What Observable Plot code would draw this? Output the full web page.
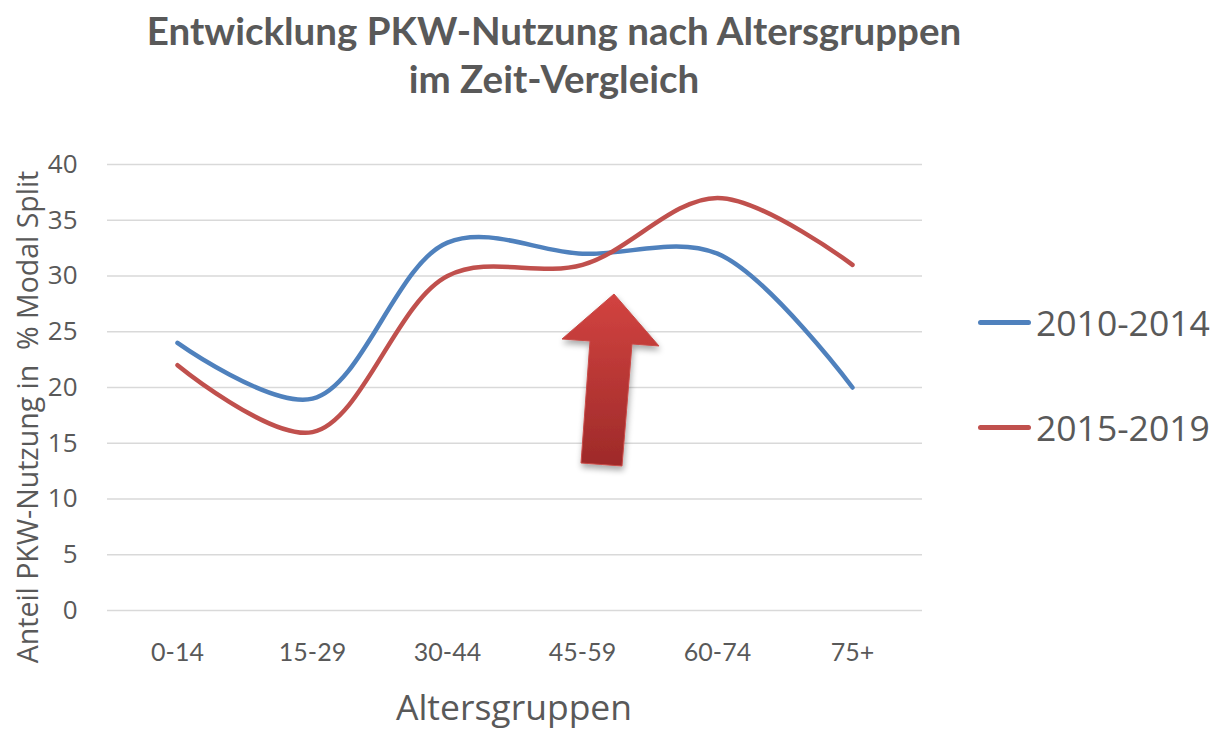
<!DOCTYPE html>
<html>
<head>
<meta charset="utf-8">
<script src="https://cdn.jsdelivr.net/npm/d3@7"></script>
<script src="https://cdn.jsdelivr.net/npm/@observablehq/plot@0.6"></script>
<style>
  html, body { margin: 0; padding: 0; background: #fff; }
  #wrap { position: relative; width: 1222px; height: 739px; overflow: hidden; font-family: "Open Sans", sans-serif; color: #595959; }
  #wrap > * { position: absolute; }
  #title { left: 0; width: 1108px; top: 6px; text-align: center; font-family: Lato, sans-serif; font-weight: bold; font-size: 38.5px; line-height: 48px; color: #595959; }
  #ytitle { left: 27px; top: 417px; transform: translate(-50%, -50%) rotate(-90deg); white-space: nowrap; font-size: 28.5px; color: #595959; }
  #xtitle { left: 514px; top: 706px; transform: translate(-50%, -50%); white-space: nowrap; font-size: 35.5px; color: #595959; }
  .leg { left: 978px; display: flex; align-items: center; font-size: 35.5px; color: #595959; transform: translateY(-50%); }
  .leg span.sw { display: inline-block; width: 53px; height: 5px; border-radius: 3px; margin-right: 5px; }
</style>
</head>
<body>
<div id="wrap">
  <div id="chart" style="left:0;top:0"></div>
  <div id="title">Entwicklung PKW-Nutzung nach Altersgruppen<br>im Zeit-Vergleich</div>
  <div id="ytitle">Anteil PKW-Nutzung in&nbsp; % Modal Split</div>
  <div id="xtitle">Altersgruppen</div>
  <svg id="arrow" width="1222" height="739" style="left:0;top:0;pointer-events:none">
    <defs>
      <linearGradient id="ag" x1="0" y1="0" x2="0" y2="1">
        <stop offset="0" stop-color="#d24340"/>
        <stop offset="1" stop-color="#9e2a29"/>
      </linearGradient>
      <filter id="sh" x="-30%" y="-30%" width="160%" height="160%">
        <feGaussianBlur in="SourceAlpha" stdDeviation="3"/>
        <feOffset dx="1" dy="4" result="b"/>
        <feComponentTransfer><feFuncA type="linear" slope="0.35"/></feComponentTransfer>
        <feMerge><feMergeNode/><feMergeNode in="SourceGraphic"/></feMerge>
      </filter>
    </defs>
    <path d="M614,294 L659,346 L632,344 L622,466 L581,463 L590,341 L562,339 Z" fill="url(#ag)" stroke="#c84a47" stroke-width="1" filter="url(#sh)"/>
  </svg>
</div>
<script>
const categories = ["0-14", "15-29", "30-44", "45-59", "60-74", "75+"];
const seriesNames = ["2010-2014", "2015-2019"];
const values2010_2014 = [24, 19, 33, 32, 32, 20];
const values2015_2019 = [22, 16, 30, 31, 37, 31];
const yTicks = [0, 5, 10, 15, 20, 25, 30, 35, 40];
const colors = ["#4f81bd", "#c0504d"];

const rows = [];
categories.forEach((c, i) => {
  rows.push({age: c, value: values2010_2014[i], series: seriesNames[0]});
  rows.push({age: c, value: values2015_2019[i], series: seriesNames[1]});
});

const chart = Plot.plot({
  width: 1222,
  height: 739,
  marginTop: 164,
  marginBottom: 129,
  marginLeft: 107,
  marginRight: 300,
  style: {fontFamily: "'Open Sans', sans-serif", color: "#595959", background: "transparent"},
  x: {type: "point", domain: categories, padding: 0.5, label: null},
  y: {domain: [0, 40], label: null},
  color: {domain: seriesNames, range: colors},
  marks: [
    Plot.gridY(yTicks, {stroke: "#d9d9d9", strokeOpacity: 1, strokeWidth: 1.5}),
    Plot.axisY(yTicks, {tickSize: 0, tickPadding: 30, fontSize: 26, fill: "#595959", label: null}),
    Plot.axisX(categories, {tickSize: 0, tickPadding: 33, fontSize: 25, fill: "#595959", label: null, fontFamily: "Lato, sans-serif"}),
    Plot.line(rows, {x: "age", y: "value", z: "series", stroke: "series", strokeWidth: 4.5, curve: "catmull-rom", strokeLinecap: "round"})
  ]
});
document.getElementById("chart").appendChild(chart);

const legY = [322, 427];
seriesNames.forEach((s, i) => {
  const d = document.createElement("div");
  d.className = "leg";
  d.style.top = legY[i] + "px";
  d.style.position = "absolute";
  d.innerHTML = `<span class="sw" style="background:${colors[i]}"></span>${s}`;
  document.getElementById("wrap").appendChild(d);
});
</script>
</body>
</html>
